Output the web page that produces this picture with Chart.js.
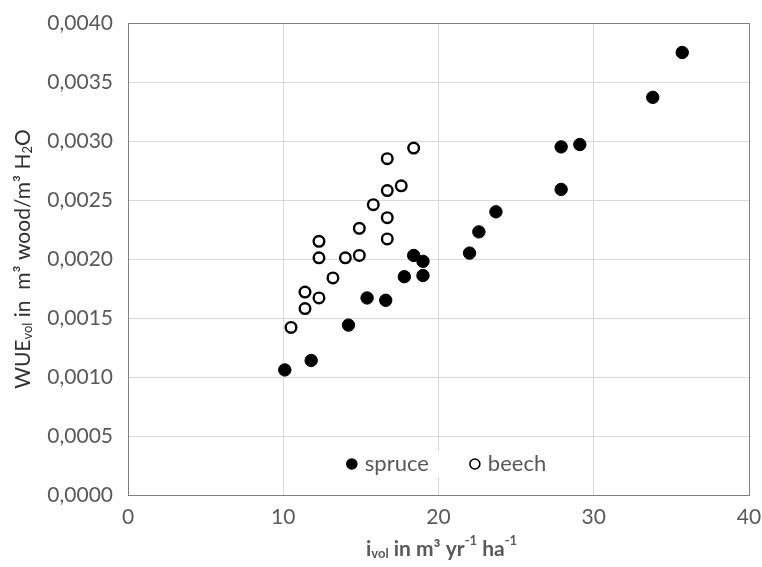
<!DOCTYPE html>
<html>
<head>
<meta charset="utf-8">
<script src="https://cdn.jsdelivr.net/npm/chart.js@4.4.0/dist/chart.umd.min.js"></script>
<style>
  html, body { margin: 0; padding: 0; background: #fff; }
  #wrap { width: 762px; height: 567px; }
</style>
</head>
<body>
<div id="wrap"><canvas id="myChart" width="762" height="567"></canvas></div>
<script>
// values
const spruceX = [10.1, 11.8, 14.2, 15.4, 16.6, 17.8, 18.4, 19.0, 19.0, 22.0, 22.6, 23.7, 27.9, 29.1, 27.9, 33.8, 35.7];
const spruceY = [0.00106, 0.00114, 0.00144, 0.00167, 0.00165, 0.00185, 0.00203, 0.00198, 0.00186, 0.00205, 0.00223, 0.00240, 0.00295, 0.00297, 0.00259, 0.00337, 0.00375];
const beechX = [18.4, 16.7, 17.6, 16.7, 15.8, 16.7, 14.9, 16.7, 12.3, 12.3, 14.0, 14.9, 13.2, 11.4, 12.3, 11.4, 10.5];
const beechY = [0.00294, 0.00285, 0.00262, 0.00258, 0.00246, 0.00235, 0.00226, 0.00217, 0.00215, 0.00201, 0.00201, 0.00203, 0.00184, 0.00172, 0.00167, 0.00158, 0.00142];
const seriesNames = ['spruce', 'beech'];

const FONT = 'Lato, "Open Sans", sans-serif';
const GRAY = '#595959';

const toPoints = (xs, ys) => xs.map((x, i) => ({ x: x, y: ys[i] }));

// draw a line of text made of runs, some of them sub- or superscript
function runsWidth(ctx, runs, size, weight) {
    let w = 0;
    runs.forEach(r => {
        const s = r.sub || r.sup ? size * 0.62 : size;
        ctx.font = weight + ' ' + s + 'px ' + FONT;
        w += ctx.measureText(r.t).width;
    });
    return w;
}
function drawRuns(ctx, runs, x, y, size, weight) {
    runs.forEach(r => {
        const s = r.sub || r.sup ? size * 0.62 : size;
        ctx.font = weight + ' ' + s + 'px ' + FONT;
        let dy = 0;
        if (r.sub) dy = size * 0.22;
        if (r.sup) dy = -size * 0.38;
        ctx.fillText(r.t, x, y + dy);
        x += ctx.measureText(r.t).width;
    });
}

const decorations = {
    id: 'decorations',
    afterDatasetsDraw(chart) {
        const ctx = chart.ctx;
        const a = chart.chartArea;
        ctx.save();

        // frame on the top and right too
        ctx.strokeStyle = '#7f7f7f';
        ctx.lineWidth = 1;
        ctx.strokeRect(Math.round(a.left) + 0.5, Math.round(a.top) + 0.5, Math.round(a.right - a.left), Math.round(a.bottom - a.top));

        // legend inside the plot
        const ds = chart.data.datasets;
        ctx.font = '22px ' + FONT;
        ctx.textBaseline = 'middle';
        const ly = a.bottom - 31;
        const gap = 41, mark = 18;
        const widths = ds.map(d => mark + ctx.measureText(d.label).width);
        const total = widths.reduce((s, w) => s + w, 0) + gap * (ds.length - 1);
        let lx = (a.left + a.right) / 2 + 8 - total / 2;
        ctx.fillStyle = '#fff';
        ctx.fillRect(lx - 8, ly - 13, total + 16, 26);
        ds.forEach((d, i) => {
            ctx.beginPath();
            ctx.arc(lx + 5, ly, 5, 0, Math.PI * 2);
            ctx.fillStyle = d.backgroundColor;
            ctx.fill();
            ctx.lineWidth = 1.6;
            ctx.strokeStyle = d.borderColor;
            ctx.stroke();
            ctx.fillStyle = GRAY;
            ctx.font = '22px ' + FONT;
            ctx.textAlign = 'left';
            ctx.fillText(d.label, lx + mark, ly);
            lx += widths[i] + gap;
        });

        // axis titles
        ctx.textAlign = 'left';
        ctx.textBaseline = 'middle';
        ctx.fillStyle = GRAY;
        const xRuns = [{ t: 'i' }, { t: 'vol', sub: true }, { t: ' in m\u00B3 yr' }, { t: '-1', sup: true }, { t: ' ha' }, { t: '-1', sup: true }];
        const xw = runsWidth(ctx, xRuns, 21, 'bold');
        drawRuns(ctx, xRuns, (a.left + a.right) / 2 + 3 - xw / 2, 549, 21, 'bold');

        ctx.fillStyle = '#303030';
        const yRuns = [{ t: 'WUE' }, { t: 'vol', sub: true }, { t: ' in  m\u00B3 wood/m\u00B3 H' }, { t: '2', sub: true }, { t: 'O' }];
        const yw = runsWidth(ctx, yRuns, 21, 'normal');
        ctx.translate(23, (a.top + a.bottom) / 2);
        ctx.rotate(-Math.PI / 2);
        drawRuns(ctx, yRuns, -yw / 2, 0, 21, 'normal');
        ctx.restore();
    }
};

const ctx = document.getElementById('myChart').getContext('2d');

new Chart(ctx, {
    type: 'scatter',
    data: {
        datasets: [{
            label: seriesNames[0],
            data: toPoints(spruceX, spruceY),
            backgroundColor: '#000',
            borderColor: '#000',
            borderWidth: 1,
            pointRadius: 6.2,
            pointHoverRadius: 6.2
        }, {
            label: seriesNames[1],
            data: toPoints(beechX, beechY),
            backgroundColor: '#fff',
            borderColor: '#000',
            borderWidth: 2.4,
            pointRadius: 5.3,
            pointHoverRadius: 5.3
        }]
    },
    options: {
        responsive: false,
        animation: false,
        layout: { padding: { top: 23, right: 13, left: 0, bottom: 0 } },
        plugins: {
            legend: { display: false },
            tooltip: { enabled: false }
        },
        scales: {
            x: {
                type: 'linear',
                min: 0,
                max: 40,
                ticks: {
                    stepSize: 10,
                    padding: 10,
                    color: GRAY,
                    font: { family: FONT, size: 21 }
                },
                grid: { color: '#d9d9d9', drawTicks: false },
                border: { display: true, color: '#7f7f7f' },
                afterFit: scale => {
                    scale.height = 72;
                    scale.paddingLeft = 0;
                    scale.paddingRight = 0;
                }
            },
            y: {
                min: 0,
                max: 0.004,
                ticks: {
                    stepSize: 0.0005,
                    padding: 15,
                    color: GRAY,
                    font: { family: FONT, size: 21 },
                    callback: v => v.toFixed(4).replace('.', ',')
                },
                grid: { color: '#d9d9d9', drawTicks: false },
                border: { display: true, color: '#7f7f7f' },
                afterFit: scale => {
                    scale.width = 128;
                    scale.paddingTop = 0;
                    scale.paddingBottom = 0;
                }
            }
        }
    },
    plugins: [decorations]
});
</script>
</body>
</html>
